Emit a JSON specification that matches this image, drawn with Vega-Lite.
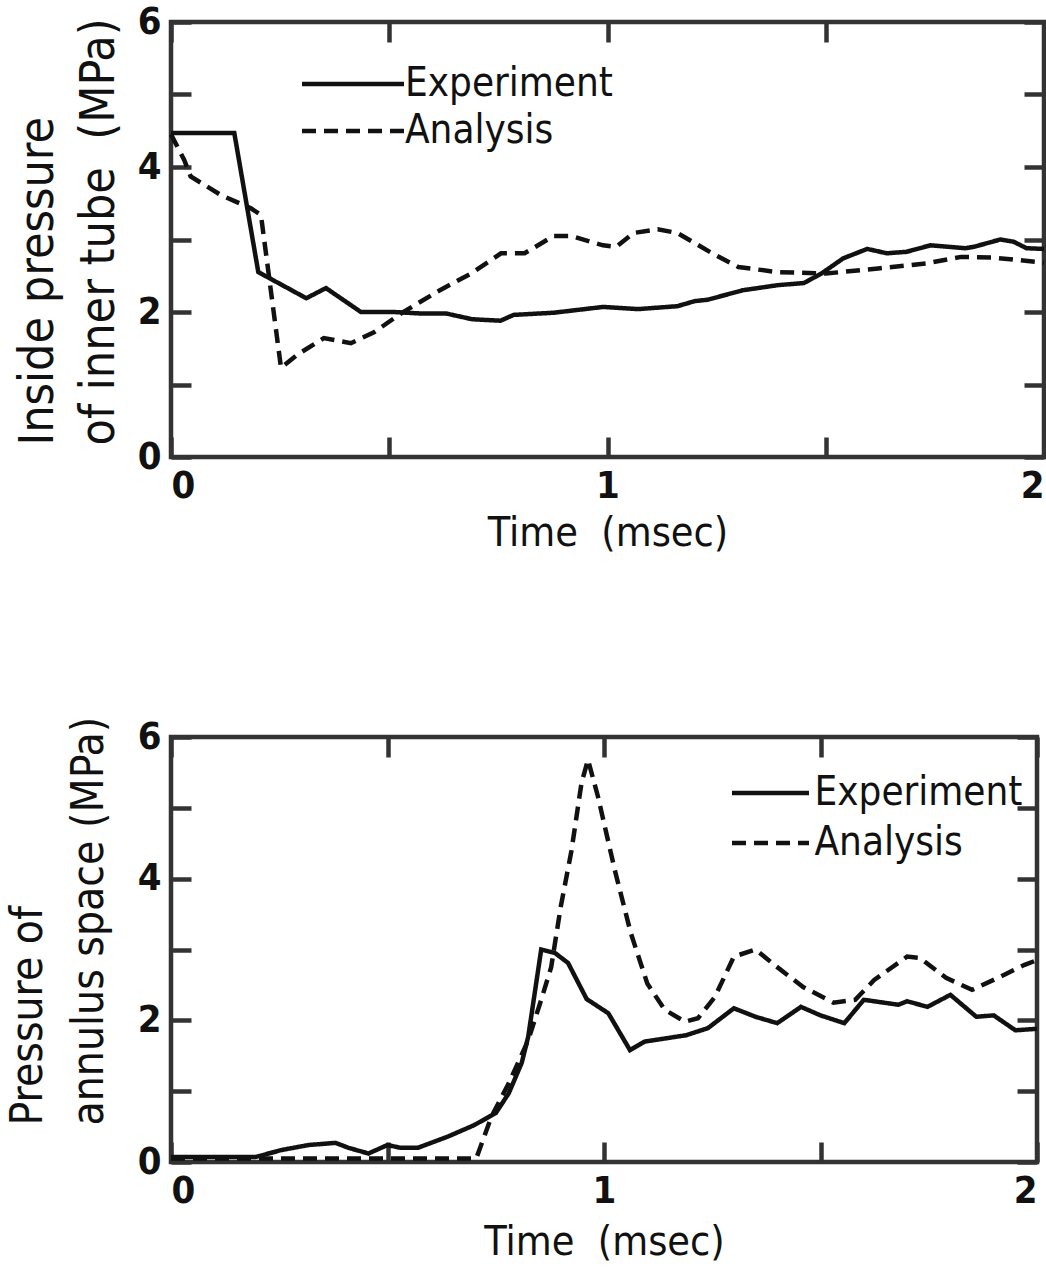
{
  "$schema": "https://vega.github.io/schema/vega-lite/v6.json",
  "background": "white",
  "padding": {"left": 3, "top": 0, "right": 0, "bottom": 0},
  "spacing": 158,
  "resolve": {"scale": {"strokeDash": "independent"}, "legend": {"strokeDash": "independent"}},
  "config": {
    "font": "DejaVu Sans Condensed, DejaVu Sans, sans-serif",
    "view": {"stroke": "#333333", "strokeWidth": 4.5},
    "axis": {
      "grid": false,
      "domain": false,
      "tickColor": "#333333",
      "tickWidth": 4.5,
      "tickSize": -20,
      "format": "d",
      "labelFont": "DejaVu Sans Condensed, DejaVu Sans, sans-serif",
      "labelFontWeight": "bold",
      "labelFontSize": 38,
      "labelColor": "#111111",
      "titleFont": "DejaVu Sans Condensed, DejaVu Sans, sans-serif",
      "titleFontWeight": "normal",
      "titleFontSize": 48,
      "titleColor": "#111111"
    },
    "legend": {
      "labelFont": "DejaVu Sans Condensed, DejaVu Sans, sans-serif",
      "labelFontSize": 40,
      "labelColor": "#111111",
      "labelLimit": 0,
      "symbolType": "M-5,0L5,0",
      "symbolStrokeWidth": 4.5,
      "symbolStrokeColor": "#111111",
      "symbolFillColor": "transparent"
    }
  },
  "vconcat": [
    {
      "width": 873,
      "height": 435,
      "data": {"values": [
        {"series": "Experiment", "t": 0, "p": 4.47},
        {"series": "Experiment", "t": 0.145, "p": 4.47},
        {"series": "Experiment", "t": 0.2, "p": 2.55},
        {"series": "Experiment", "t": 0.31, "p": 2.19},
        {"series": "Experiment", "t": 0.355, "p": 2.33},
        {"series": "Experiment", "t": 0.435, "p": 2.0},
        {"series": "Experiment", "t": 0.51, "p": 2.0},
        {"series": "Experiment", "t": 0.57, "p": 1.98},
        {"series": "Experiment", "t": 0.63, "p": 1.98},
        {"series": "Experiment", "t": 0.69, "p": 1.9},
        {"series": "Experiment", "t": 0.755, "p": 1.88},
        {"series": "Experiment", "t": 0.785, "p": 1.96},
        {"series": "Experiment", "t": 0.877, "p": 1.99},
        {"series": "Experiment", "t": 0.99, "p": 2.07},
        {"series": "Experiment", "t": 1.07, "p": 2.04},
        {"series": "Experiment", "t": 1.16, "p": 2.08},
        {"series": "Experiment", "t": 1.2, "p": 2.15},
        {"series": "Experiment", "t": 1.23, "p": 2.17},
        {"series": "Experiment", "t": 1.31, "p": 2.3},
        {"series": "Experiment", "t": 1.39, "p": 2.37},
        {"series": "Experiment", "t": 1.45, "p": 2.4},
        {"series": "Experiment", "t": 1.49, "p": 2.53},
        {"series": "Experiment", "t": 1.54, "p": 2.74},
        {"series": "Experiment", "t": 1.595, "p": 2.87},
        {"series": "Experiment", "t": 1.64, "p": 2.81},
        {"series": "Experiment", "t": 1.685, "p": 2.83},
        {"series": "Experiment", "t": 1.74, "p": 2.92},
        {"series": "Experiment", "t": 1.82, "p": 2.88},
        {"series": "Experiment", "t": 1.84, "p": 2.9},
        {"series": "Experiment", "t": 1.9, "p": 3.0},
        {"series": "Experiment", "t": 1.93, "p": 2.97},
        {"series": "Experiment", "t": 1.96, "p": 2.88},
        {"series": "Experiment", "t": 2.0, "p": 2.87},
        {"series": "Analysis", "t": 0, "p": 4.45},
        {"series": "Analysis", "t": 0.03, "p": 4.1},
        {"series": "Analysis", "t": 0.045, "p": 3.87},
        {"series": "Analysis", "t": 0.115, "p": 3.61},
        {"series": "Analysis", "t": 0.183, "p": 3.43},
        {"series": "Analysis", "t": 0.206, "p": 3.34},
        {"series": "Analysis", "t": 0.252, "p": 1.23},
        {"series": "Analysis", "t": 0.289, "p": 1.41},
        {"series": "Analysis", "t": 0.35, "p": 1.64},
        {"series": "Analysis", "t": 0.412, "p": 1.57},
        {"series": "Analysis", "t": 0.465, "p": 1.72},
        {"series": "Analysis", "t": 0.527, "p": 1.98},
        {"series": "Analysis", "t": 0.61, "p": 2.28},
        {"series": "Analysis", "t": 0.687, "p": 2.53},
        {"series": "Analysis", "t": 0.756, "p": 2.81},
        {"series": "Analysis", "t": 0.81, "p": 2.81},
        {"series": "Analysis", "t": 0.877, "p": 3.05},
        {"series": "Analysis", "t": 0.915, "p": 3.05},
        {"series": "Analysis", "t": 0.99, "p": 2.92},
        {"series": "Analysis", "t": 1.02, "p": 2.9},
        {"series": "Analysis", "t": 1.06, "p": 3.09},
        {"series": "Analysis", "t": 1.115, "p": 3.14},
        {"series": "Analysis", "t": 1.16, "p": 3.09},
        {"series": "Analysis", "t": 1.24, "p": 2.81},
        {"series": "Analysis", "t": 1.3, "p": 2.62},
        {"series": "Analysis", "t": 1.39, "p": 2.55},
        {"series": "Analysis", "t": 1.5, "p": 2.53},
        {"series": "Analysis", "t": 1.62, "p": 2.6},
        {"series": "Analysis", "t": 1.73, "p": 2.67},
        {"series": "Analysis", "t": 1.81, "p": 2.76},
        {"series": "Analysis", "t": 1.885, "p": 2.75},
        {"series": "Analysis", "t": 2.0, "p": 2.68}
      ]},
      "layer": [
        {
          "mark": {"type": "line", "strokeWidth": 4.5, "color": "#111111"},
          "encoding": {
            "x": {"field": "t", "type": "quantitative", "scale": {"domain": [0, 2], "nice": false, "zero": false},
              "axis": {"orient": "bottom", "values": [0, 0.5, 1, 1.5, 2], "labelExpr": "datum.value % 1 === 0 ? datum.label : ''", "labelPadding": 30, "title": "Time\u00a0 (msec)", "titleFontSize": 41, "titlePadding": 8}},
            "y": {"field": "p", "type": "quantitative", "scale": {"domain": [0, 6], "nice": false},
              "axis": {"orient": "left", "values": [0, 1, 2, 3, 4, 5, 6], "labelExpr": "datum.value % 2 === 0 ? datum.label : ''", "labelPadding": 30, "title": ["Inside pressure", "of inner tube\u00a0 (MPa)"], "titleAnchor": "start", "titleAlign": "left", "titleY": 423, "titleLineHeight": 61, "titlePadding": 14}},
            "strokeDash": {"field": "series", "type": "nominal",
              "scale": {"domain": ["Experiment", "Analysis"], "range": [[1, 0], [14, 8]]},
              "legend": {"orient": "none", "legendX": 131, "legendY": 42, "title": null, "symbolSize": 416, "symbolOffset": 31, "labelOffset": 32, "rowPadding": 7}}
          }
        },
        {
          "mark": {"type": "point", "opacity": 0},
          "encoding": {
            "x": {"field": "t", "type": "quantitative", "axis": {"orient": "top", "values": [0, 0.5, 1, 1.5, 2], "labels": false, "title": null}},
            "y": {"field": "p", "type": "quantitative", "axis": {"orient": "right", "values": [0, 1, 2, 3, 4, 5, 6], "labels": false, "title": null}}
          }
        }
      ]
    },
    {
      "width": 866,
      "height": 425,
      "data": {"values": [
        {"series": "Experiment", "t": 0, "p": 0.07},
        {"series": "Experiment", "t": 0.195, "p": 0.07},
        {"series": "Experiment", "t": 0.256, "p": 0.17},
        {"series": "Experiment", "t": 0.318, "p": 0.24},
        {"series": "Experiment", "t": 0.38, "p": 0.27},
        {"series": "Experiment", "t": 0.41, "p": 0.2},
        {"series": "Experiment", "t": 0.456, "p": 0.12},
        {"series": "Experiment", "t": 0.5, "p": 0.24},
        {"series": "Experiment", "t": 0.53, "p": 0.2},
        {"series": "Experiment", "t": 0.57, "p": 0.2},
        {"series": "Experiment", "t": 0.64, "p": 0.36},
        {"series": "Experiment", "t": 0.7, "p": 0.52},
        {"series": "Experiment", "t": 0.75, "p": 0.69},
        {"series": "Experiment", "t": 0.78, "p": 0.97},
        {"series": "Experiment", "t": 0.81, "p": 1.4},
        {"series": "Experiment", "t": 0.825, "p": 1.77},
        {"series": "Experiment", "t": 0.855, "p": 3.0},
        {"series": "Experiment", "t": 0.887, "p": 2.95},
        {"series": "Experiment", "t": 0.917, "p": 2.81},
        {"series": "Experiment", "t": 0.96, "p": 2.3},
        {"series": "Experiment", "t": 1.01, "p": 2.1},
        {"series": "Experiment", "t": 1.06, "p": 1.58},
        {"series": "Experiment", "t": 1.094, "p": 1.7},
        {"series": "Experiment", "t": 1.19, "p": 1.79},
        {"series": "Experiment", "t": 1.24, "p": 1.89},
        {"series": "Experiment", "t": 1.3, "p": 2.17},
        {"series": "Experiment", "t": 1.35, "p": 2.05},
        {"series": "Experiment", "t": 1.4, "p": 1.96},
        {"series": "Experiment", "t": 1.455, "p": 2.19},
        {"series": "Experiment", "t": 1.5, "p": 2.07},
        {"series": "Experiment", "t": 1.555, "p": 1.96},
        {"series": "Experiment", "t": 1.6, "p": 2.29},
        {"series": "Experiment", "t": 1.68, "p": 2.22},
        {"series": "Experiment", "t": 1.7, "p": 2.27},
        {"series": "Experiment", "t": 1.747, "p": 2.19},
        {"series": "Experiment", "t": 1.8, "p": 2.36},
        {"series": "Experiment", "t": 1.86, "p": 2.05},
        {"series": "Experiment", "t": 1.9, "p": 2.07},
        {"series": "Experiment", "t": 1.95, "p": 1.86},
        {"series": "Experiment", "t": 2.0, "p": 1.88},
        {"series": "Analysis", "t": 0, "p": 0.05},
        {"series": "Analysis", "t": 0.705, "p": 0.05},
        {"series": "Analysis", "t": 0.74, "p": 0.64},
        {"series": "Analysis", "t": 0.78, "p": 1.11},
        {"series": "Analysis", "t": 0.825, "p": 1.72},
        {"series": "Analysis", "t": 0.855, "p": 2.29},
        {"series": "Analysis", "t": 0.878, "p": 2.75},
        {"series": "Analysis", "t": 0.9, "p": 3.6},
        {"series": "Analysis", "t": 0.925, "p": 4.4},
        {"series": "Analysis", "t": 0.948, "p": 5.35},
        {"series": "Analysis", "t": 0.963, "p": 5.68},
        {"series": "Analysis", "t": 0.986, "p": 5.16},
        {"series": "Analysis", "t": 1.025, "p": 4.12},
        {"series": "Analysis", "t": 1.062, "p": 3.23},
        {"series": "Analysis", "t": 1.1, "p": 2.52},
        {"series": "Analysis", "t": 1.14, "p": 2.15},
        {"series": "Analysis", "t": 1.187, "p": 1.98},
        {"series": "Analysis", "t": 1.217, "p": 2.03},
        {"series": "Analysis", "t": 1.256, "p": 2.33},
        {"series": "Analysis", "t": 1.3, "p": 2.9},
        {"series": "Analysis", "t": 1.35, "p": 3.0},
        {"series": "Analysis", "t": 1.394, "p": 2.78},
        {"series": "Analysis", "t": 1.46, "p": 2.47},
        {"series": "Analysis", "t": 1.53, "p": 2.25},
        {"series": "Analysis", "t": 1.58, "p": 2.29},
        {"series": "Analysis", "t": 1.624, "p": 2.57},
        {"series": "Analysis", "t": 1.7, "p": 2.9},
        {"series": "Analysis", "t": 1.73, "p": 2.88},
        {"series": "Analysis", "t": 1.79, "p": 2.6},
        {"series": "Analysis", "t": 1.85, "p": 2.43},
        {"series": "Analysis", "t": 1.91, "p": 2.6},
        {"series": "Analysis", "t": 1.97, "p": 2.78},
        {"series": "Analysis", "t": 2.0, "p": 2.85}
      ]},
      "layer": [
        {
          "mark": {"type": "line", "strokeWidth": 4.5, "color": "#111111"},
          "encoding": {
            "x": {"field": "t", "type": "quantitative", "scale": {"domain": [0, 2], "nice": false, "zero": false},
              "axis": {"orient": "bottom", "values": [0, 0.5, 1, 1.5, 2], "labelExpr": "datum.value % 1 === 0 ? datum.label : ''", "labelPadding": 30, "title": "Time\u00a0 (msec)", "titleFontSize": 41, "titlePadding": 12}},
            "y": {"field": "p", "type": "quantitative", "scale": {"domain": [0, 6], "nice": false},
              "axis": {"orient": "left", "values": [0, 1, 2, 3, 4, 5, 6], "labelExpr": "datum.value % 2 === 0 ? datum.label : ''", "labelPadding": 30, "title": ["Pressure of", "annulus space (MPa)"], "titleFontSize": 44, "titleAnchor": "start", "titleAlign": "left", "titleY": 388, "titleLineHeight": 61, "titlePadding": 26}},
            "strokeDash": {"field": "series", "type": "nominal",
              "scale": {"domain": ["Experiment", "Analysis"], "range": [[1, 0], [14, 8]]},
              "legend": {"orient": "none", "legendX": 561, "legendY": 36, "title": null, "symbolSize": 237, "symbolOffset": 18.5, "labelOffset": 24, "rowPadding": 10}}
          }
        },
        {
          "mark": {"type": "point", "opacity": 0},
          "encoding": {
            "x": {"field": "t", "type": "quantitative", "axis": {"orient": "top", "values": [0, 0.5, 1, 1.5, 2], "labels": false, "title": null}},
            "y": {"field": "p", "type": "quantitative", "axis": {"orient": "right", "values": [0, 1, 2, 3, 4, 5, 6], "labels": false, "title": null}}
          }
        }
      ]
    }
  ]
}
